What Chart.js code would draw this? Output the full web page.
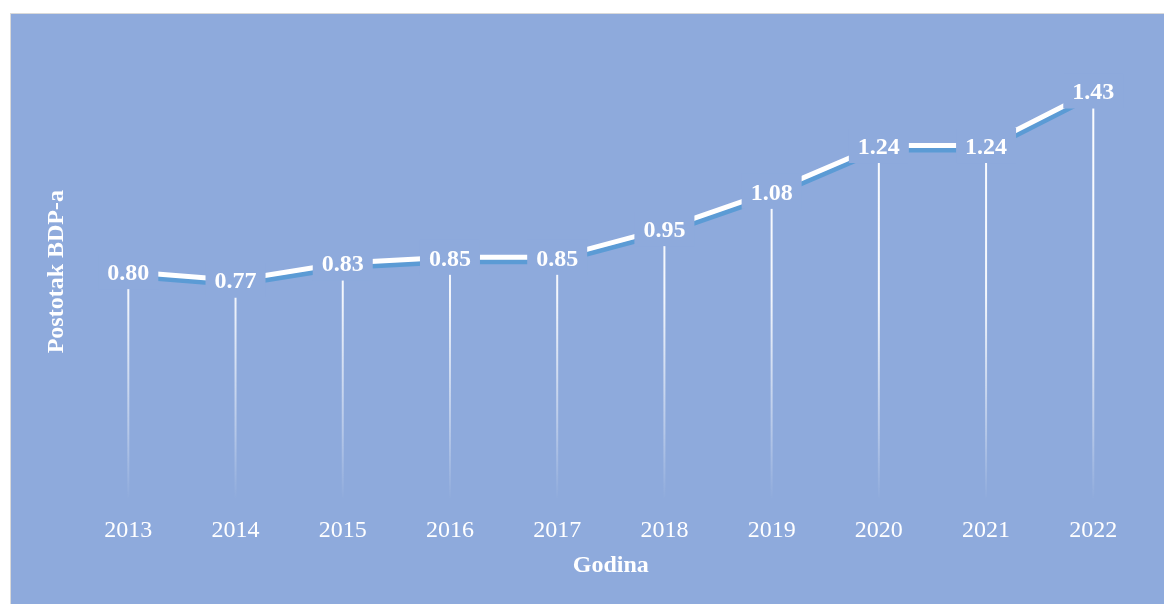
<!DOCTYPE html>
<html>
<head>
<meta charset="utf-8">
<script src="https://cdn.jsdelivr.net/npm/chart.js@4"></script>
<style>
  html, body { margin: 0; padding: 0; background: #ffffff; }
  #box {
    position: absolute; left: 10px; top: 13px; width: 1154px; height: 591px;
    box-sizing: border-box; border-left: 1px solid #d9d9d9; border-top: 1px solid #d9d9d9;
    background: #8eaadc;
  }
  canvas { display: block; }
</style>
</head>
<body>
<div id="box"><canvas id="c" width="1153" height="590"></canvas></div>
<script>
const years = ['2013','2014','2015','2016','2017','2018','2019','2020','2021','2022'];
const gdpShare = [0.80, 0.77, 0.83, 0.85, 0.85, 0.95, 1.08, 1.24, 1.24, 1.43];
const xTitle = 'Godina';
const yTitle = 'Postotak BDP-a';

const BG = '#8eaadc';
const SERIF = '"Liberation Serif", "Times New Roman", serif';

const dropLines = {
  id: 'dropLines',
  beforeDatasetsDraw(chart) {
    const ctx = chart.ctx;
    const meta = chart.getDatasetMeta(0);
    const area = chart.chartArea;
    const g = ctx.createLinearGradient(0, area.top, 0, area.bottom);
    g.addColorStop(0, 'rgba(255,255,255,1)');
    g.addColorStop(0.55, 'rgba(255,255,255,0.9)');
    g.addColorStop(0.85, 'rgba(255,255,255,0.35)');
    g.addColorStop(1, 'rgba(255,255,255,0)');
    ctx.save();
    ctx.strokeStyle = g;
    ctx.lineWidth = 2;
    meta.data.forEach(p => {
      ctx.beginPath();
      ctx.moveTo(p.x, p.y);
      ctx.lineTo(p.x, area.bottom - 3);
      ctx.stroke();
    });
    ctx.restore();
  }
};

const lineShadow = {
  id: 'lineShadow',
  beforeDatasetDraw(chart) {
    const ctx = chart.ctx;
    ctx.save();
    ctx.shadowColor = '#5b9bd5';
    ctx.shadowOffsetX = 1;
    ctx.shadowOffsetY = 4.5;
    ctx.shadowBlur = 0;
  },
  afterDatasetDraw(chart) {
    chart.ctx.restore();
  }
};

const valueLabels = {
  id: 'valueLabels',
  afterDatasetsDraw(chart) {
    const ctx = chart.ctx;
    const meta = chart.getDatasetMeta(0);
    const vals = chart.data.datasets[0].data;
    ctx.save();
    ctx.font = 'bold 24px ' + SERIF;
    ctx.textAlign = 'center';
    ctx.textBaseline = 'middle';
    meta.data.forEach((p, i) => {
      const t = vals[i].toFixed(2);
      const w = ctx.measureText(t).width;
      ctx.fillStyle = BG;
      ctx.fillRect(p.x - w / 2 - 9, p.y - 17.5, w + 18, 35);
      ctx.fillStyle = '#ffffff';
      ctx.fillText(t, p.x, p.y + 2);
    });
    ctx.restore();
  }
};

new Chart(document.getElementById('c'), {
  type: 'line',
  data: {
    labels: years,
    datasets: [{
      data: gdpShare,
      borderColor: '#ffffff',
      borderWidth: 5,
      pointRadius: 0,
      pointHoverRadius: 0,
      tension: 0,
      fill: false
    }]
  },
  options: {
    responsive: false,
    animation: false,
    events: [],
    layout: { padding: { top: 28.3, right: 17.1, left: 0, bottom: 0 } },
    plugins: { legend: { display: false }, tooltip: { enabled: false } },
    scales: {
      x: {
        offset: true,
        grid: { display: false, drawTicks: false },
        border: { display: false },
        ticks: { color: '#ffffff', font: { family: SERIF, size: 24 }, padding: 15, maxRotation: 0 },
        title: { display: true, text: xTitle, color: '#ffffff', font: { family: SERIF, size: 24, weight: 'bold' }, padding: { top: 0, bottom: 24 } },
        afterFit(s) { s.height = 103; }
      },
      y: {
        min: 0, max: 1.6,
        grid: { display: false, drawTicks: false },
        border: { display: false },
        ticks: { display: false },
        title: { display: true, text: yTitle, color: '#ffffff', font: { family: SERIF, size: 24, weight: 'bold' }, padding: { top: 31, bottom: 0 } },
        afterFit(s) { s.width = 63.7; }
      }
    }
  },
  plugins: [dropLines, lineShadow, valueLabels]
});
</script>
</body>
</html>
